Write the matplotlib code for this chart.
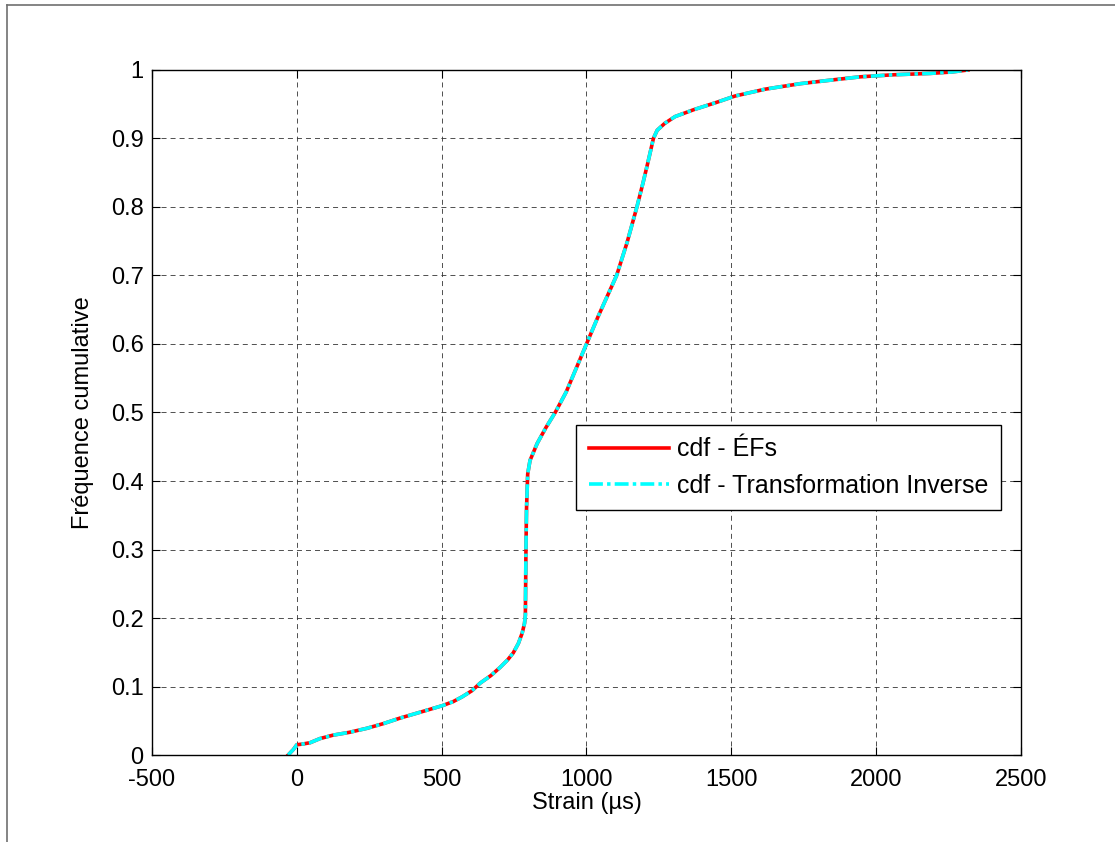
import numpy as np
import matplotlib
matplotlib.use('Agg')
import matplotlib.pyplot as plt
from matplotlib.lines import Line2D

plt.rcParams['font.family'] = ['Liberation Sans', 'DejaVu Sans']
plt.rcParams['lines.scale_dashes'] = False

# cumulative distribution of strain
strain = [-30, -12, 0, 20, 46, 80, 125, 180, 242, 300, 357, 430, 502, 540, 571,
          605, 633, 670, 702, 728, 747, 765, 778, 786, 789, 790, 791, 793, 797,
          805, 830, 860, 892, 930, 965, 1000, 1040, 1072, 1104, 1140, 1174,
          1195, 1212, 1231, 1244, 1270, 1306, 1370, 1444, 1513, 1617, 1738,
          1860, 1945, 2060, 2187, 2260, 2317]
cdf_ef = [0.0, 0.008, 0.015, 0.016, 0.018, 0.024, 0.029, 0.033, 0.039, 0.046,
          0.054, 0.063, 0.072, 0.078, 0.085, 0.094, 0.105, 0.116, 0.128, 0.139,
          0.149, 0.163, 0.178, 0.192, 0.204, 0.25, 0.3, 0.36, 0.41, 0.43,
          0.455, 0.478, 0.5, 0.53, 0.565, 0.6, 0.64, 0.67, 0.7, 0.748, 0.8,
          0.835, 0.865, 0.9, 0.912, 0.922, 0.932, 0.942, 0.952, 0.962, 0.972,
          0.98, 0.986, 0.99, 0.993, 0.995, 0.997, 1.0]
# inverse transformation samples follow the same curve
cdf_inv = list(cdf_ef)

xticks = [-500, 0, 500, 1000, 1500, 2000, 2500]
yticks = [0, 0.1, 0.2, 0.3, 0.4, 0.5, 0.6, 0.7, 0.8, 0.9, 1]

fs = 17

fig = plt.figure(figsize=(11.15, 8.42), dpi=100)
ax = fig.add_axes([0.1363, 0.1033, 0.9157 - 0.1363, 0.9169 - 0.1033])

ax.plot(strain, cdf_ef, color='#ff0000', lw=2.6, label='cdf - ÉFs')
ax.plot(strain, cdf_inv, color='#00ffff', lw=2.6, linestyle=(0, (10, 3, 2.5, 3)),
        label='cdf - Transformation Inverse')

ax.set_xlim(-500, 2500)
ax.set_ylim(0, 1)
ax.set_xticks(xticks)
ax.set_yticks(yticks)
ax.set_xticklabels([str(t) for t in xticks])
ax.set_yticklabels(['0'] + ['%.1f' % t for t in yticks[1:-1]] + ['1'])
ax.tick_params(direction='in', length=6, width=0.8, labelsize=fs,
               top=True, right=True)
ax.tick_params(axis='x', pad=10)
ax.tick_params(axis='y', pad=6)
ax.grid(True, color='#333333', linestyle=(0, (3.6, 2.9)), lw=0.6)
for s in ax.spines.values():
    s.set_linewidth(1.0)

ax.set_xlabel('Strain (µs)', fontsize=fs, labelpad=1)
ax.set_ylabel('Fréquence cumulative', fontsize=fs, labelpad=12)

leg = ax.legend(loc='upper left', bbox_to_anchor=(0.488, 0.4818),
                borderaxespad=0, fontsize=18, fancybox=False, framealpha=1,
                edgecolor='black', handlelength=3.2, handletextpad=0.35,
                borderpad=0.5, labelspacing=0.5)
leg.get_frame().set_linewidth(1.0)

# thin border along the top and left of the figure
fig.add_artist(Line2D([0.0063, 1], [0.9941, 0.9941], color='#707070', lw=1.2))
fig.add_artist(Line2D([0.0063, 0.0063], [0, 0.9941], color='#707070', lw=1.2))

fig.savefig('out.png', dpi=100)
